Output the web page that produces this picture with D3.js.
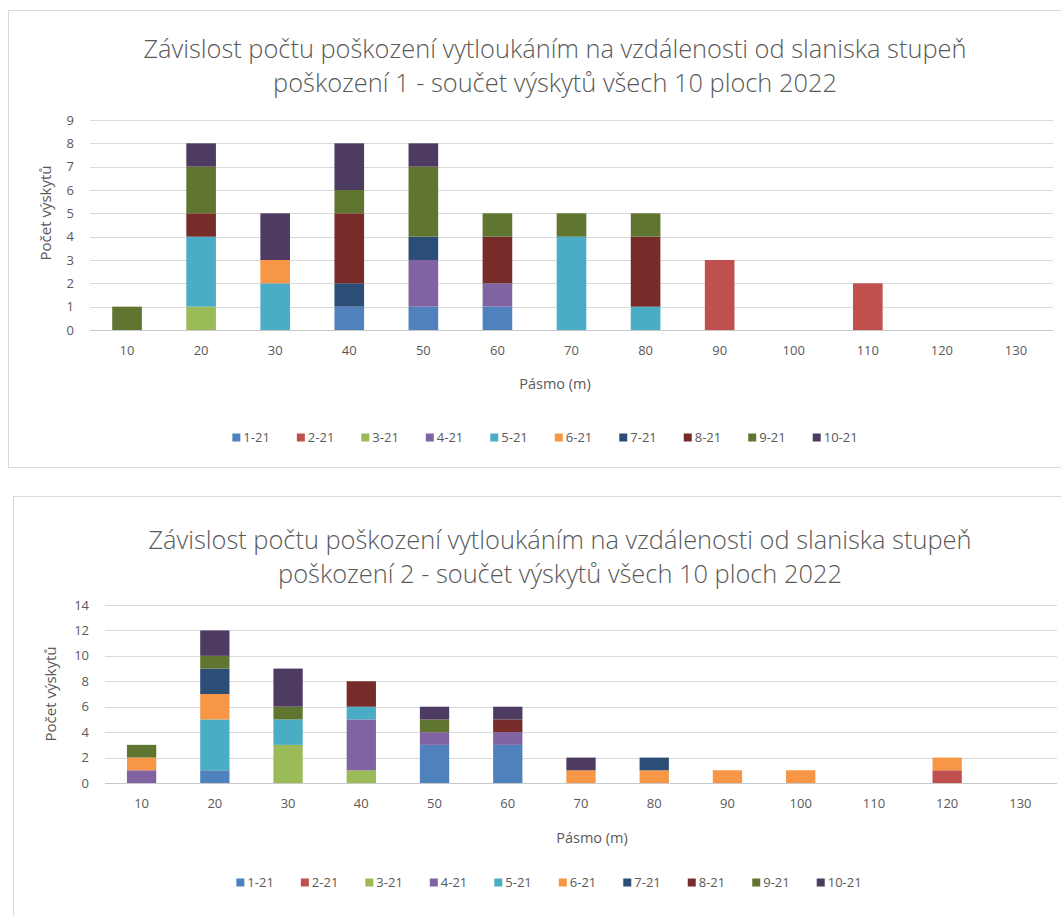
<!DOCTYPE html>
<meta charset="utf-8">
<style>
    body {
        margin: 0;
        background: #fff;
    }
    svg text {
        font-family: "Open Sans", sans-serif;
        fill: #595959;
    }
</style>

<body>
    <script src="https://d3js.org/d3.v7.min.js"></script>
    <script>
        // pásma (m)
        var categories = [10, 20, 30, 40, 50, 60, 70, 80, 90, 100, 110, 120, 130];
        var seriesNames = ["1-21", "2-21", "3-21", "4-21", "5-21", "6-21", "7-21", "8-21", "9-21", "10-21"];
        var seriesColors = ["#4f81bd", "#c0504d", "#9bbb59", "#8064a2", "#4bacc6",
            "#f79646", "#2c4d75", "#772c2a", "#5f7530", "#4d3b62"];

        // stupeň poškození 1
        var deg1 = [
            [0, 0, 0, 1, 1, 1, 0, 0, 0, 0, 0, 0, 0],
            [0, 0, 0, 0, 0, 0, 0, 0, 3, 0, 2, 0, 0],
            [0, 1, 0, 0, 0, 0, 0, 0, 0, 0, 0, 0, 0],
            [0, 0, 0, 0, 2, 1, 0, 0, 0, 0, 0, 0, 0],
            [0, 3, 2, 0, 0, 0, 4, 1, 0, 0, 0, 0, 0],
            [0, 0, 1, 0, 0, 0, 0, 0, 0, 0, 0, 0, 0],
            [0, 0, 0, 1, 1, 0, 0, 0, 0, 0, 0, 0, 0],
            [0, 1, 0, 3, 0, 2, 0, 3, 0, 0, 0, 0, 0],
            [1, 2, 0, 1, 3, 1, 1, 1, 0, 0, 0, 0, 0],
            [0, 1, 2, 2, 1, 0, 0, 0, 0, 0, 0, 0, 0]
        ];

        // stupeň poškození 2
        var deg2 = [
            [0, 1, 0, 0, 3, 3, 0, 0, 0, 0, 0, 0, 0],
            [0, 0, 0, 0, 0, 0, 0, 0, 0, 0, 0, 1, 0],
            [0, 0, 3, 1, 0, 0, 0, 0, 0, 0, 0, 0, 0],
            [1, 0, 0, 4, 1, 1, 0, 0, 0, 0, 0, 0, 0],
            [0, 4, 2, 1, 0, 0, 0, 0, 0, 0, 0, 0, 0],
            [1, 2, 0, 0, 0, 0, 1, 1, 1, 1, 0, 1, 0],
            [0, 2, 0, 0, 0, 0, 0, 1, 0, 0, 0, 0, 0],
            [0, 0, 0, 2, 0, 1, 0, 0, 0, 0, 0, 0, 0],
            [1, 1, 1, 0, 1, 0, 0, 0, 0, 0, 0, 0, 0],
            [0, 2, 3, 0, 1, 1, 1, 0, 0, 0, 0, 0, 0]
        ];

        var titles1 = ["Závislost počtu poškození vytloukáním na vzdálenosti od slaniska stupeň",
            "poškození 1 - součet výskytů všech 10 ploch 2022"];
        var titles2 = ["Závislost počtu poškození vytloukáním na vzdálenosti od slaniska stupeň",
            "poškození 2 - součet výskytů všech 10 ploch 2022"];

        var svg = d3.select("body").append("svg")
            .attr("width", 1061)
            .attr("height", 916);

        function drawChart(c) {
            var g = svg.append("g");

            g.append("rect")
                .attr("x", c.box[0] + 0.5).attr("y", c.box[1] + 0.5)
                .attr("width", c.box[2]).attr("height", c.box[3])
                .attr("fill", "#fff")
                .attr("stroke", "#d9d9d9");

            c.titles.forEach(function (t, i) {
                g.append("text")
                    .attr("x", c.titleX)
                    .attr("y", c.titleY + i * 34)
                    .attr("text-anchor", "middle")
                    .style("font-size", "25.4px")
                    .style("font-weight", 300)
                    .text(t);
            });

            var x = d3.scaleBand()
                .domain(categories)
                .range([c.left, c.right])
                .paddingInner(0.6)
                .paddingOuter(0.3);

            var y = d3.scaleLinear()
                .domain([0, c.max])
                .range([c.bottom, c.top]);

            var ticks = d3.range(0, c.max + 1, c.step);

            // mřížka
            g.append("g").selectAll("line")
                .data(ticks)
                .join("line")
                .attr("x1", c.left).attr("x2", c.right)
                .attr("y1", function (d) { return Math.round(y(d)) + 0.5; })
                .attr("y2", function (d) { return Math.round(y(d)) + 0.5; })
                .attr("stroke", function (d) { return d === 0 ? "#c8c8c8" : "#d9d9d9"; });

            g.append("g").selectAll("text")
                .data(ticks)
                .join("text")
                .attr("x", c.left - 16)
                .attr("y", function (d) { return y(d) + 4.5; })
                .attr("text-anchor", "end")
                .style("font-size", "13px")
                .text(function (d) { return d; });

            var xAxis = g.append("g")
                .attr("transform", "translate(0," + c.bottom + ")")
                .call(d3.axisBottom(x).tickSize(0).tickPadding(c.tickPad));
            xAxis.select(".domain").remove();
            xAxis.selectAll("text")
                .style("font-size", "13px")
                .style("font-family", "'Open Sans', sans-serif")
                .attr("fill", "#595959");

            // stacked bars
            var rows = categories.map(function (cat, i) {
                var r = { cat: cat };
                seriesNames.forEach(function (s, k) { r[s] = c.values[k][i]; });
                return r;
            });
            var stack = d3.stack().keys(seriesNames)(rows);

            g.append("g").selectAll("g")
                .data(stack)
                .join("g")
                .attr("fill", function (d, k) { return seriesColors[k]; })
                .selectAll("rect")
                .data(function (d) { return d.filter(function (p) { return p[1] > p[0]; }); })
                .join("rect")
                .attr("x", function (p) { return x(p.data.cat); })
                .attr("width", x.bandwidth())
                .attr("y", function (p) { return y(p[1]); })
                .attr("height", function (p) { return y(p[0]) - y(p[1]); });

            g.append("text")
                .attr("transform", "translate(" + c.yTitleX + "," + c.yTitleY + ") rotate(-90)")
                .attr("text-anchor", "middle")
                .style("font-size", "15px")
                .text("Počet výskytů");

            g.append("text")
                .attr("x", c.xTitleX)
                .attr("y", c.xTitleY)
                .attr("text-anchor", "middle")
                .style("font-size", "14.5px")
                .text("Pásmo (m)");

            // legenda
            var leg = g.append("g");
            var items = leg.selectAll("g")
                .data(seriesNames)
                .join("g");
            items.append("rect")
                .attr("width", 8).attr("height", 8)
                .attr("y", -8.5)
                .attr("fill", function (d, k) { return seriesColors[k]; });
            items.append("text")
                .attr("x", 11)
                .style("font-size", "13px")
                .text(function (d) { return d; });
            var gap = 27, pos = 0;
            items.each(function () {
                var w = this.getBBox().width;
                d3.select(this).attr("transform", "translate(" + pos + ",0)");
                pos += w + gap;
            });
            var total = pos - gap;
            leg.attr("transform", "translate(" + (c.legendX - total / 2) + "," + c.legendY + ")");
        }

        drawChart({
            box: [8, 10, 1070, 457],
            titles: titles1, titleX: 555, titleY: 58,
            left: 90, right: 1053, top: 120, bottom: 330,
            max: 9, step: 1, values: deg1,
            tickPad: 16, yTitleX: 51, yTitleY: 213,
            xTitleX: 555, xTitleY: 389, legendX: 545, legendY: 442
        });

        drawChart({
            box: [13, 496, 1070, 440],
            titles: titles2, titleX: 560, titleY: 549,
            left: 105, right: 1057, top: 605, bottom: 783,
            max: 14, step: 2, values: deg2,
            tickPad: 16, yTitleX: 56, yTitleY: 694,
            xTitleX: 592, xTitleY: 843, legendX: 549, legendY: 887
        });
    </script>
